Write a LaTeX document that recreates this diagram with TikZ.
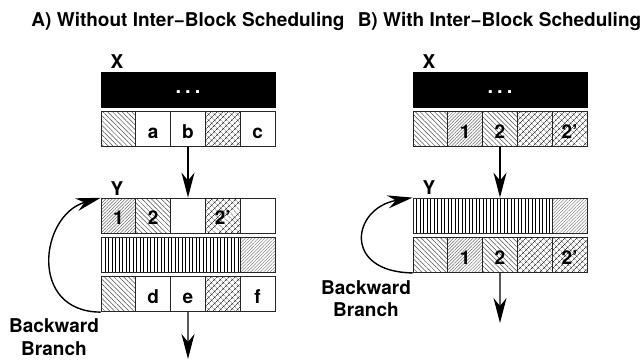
\documentclass[tikz,border=0pt]{standalone}
\usepackage{fontspec}
\setmainfont{TeX Gyre Heros}
\usetikzlibrary{arrows.meta,patterns.meta}
\tikzstyle{cell} = [rectangle, draw=black!85, line width=0.8bp, minimum width=34.8bp, minimum height=35bp, inner sep=0pt, text height=18bp, text depth=0bp, font=\fontsize{19bp}{21bp}\selectfont\bfseries]
\tikzstyle{nwcell} = [cell, pattern={Lines[angle=-45,distance=3.4bp,line width=0.5bp]}, pattern color=black!70]
\tikzstyle{necell} = [cell, pattern={Lines[angle=45,distance=2.3bp,line width=0.45bp]}, pattern color=black!60]
\tikzstyle{xcell} = [cell, pattern={Hatch[angle=45,distance=3.9bp,line width=0.6bp]}, pattern color=black!75]
\tikzstyle{vbar} = [cell, minimum width=139.2bp, pattern={Lines[angle=90,distance=3.5bp,line width=0.6bp]}, pattern color=black]
\tikzstyle{blackbar} = [rectangle, draw, fill=black, minimum width=174bp, minimum height=35bp, inner sep=0pt]
\tikzstyle{dots} = [text=white, inner sep=0pt, font=\fontsize{20bp}{22bp}\selectfont\bfseries]
\tikzstyle{lab} = [anchor=base, font=\fontsize{19bp}{21bp}\selectfont\bfseries]
\tikzstyle{title} = [anchor=base, font=\fontsize{19bp}{22bp}\selectfont\bfseries]
\tikzstyle{branch} = [anchor=base, align=center, font=\fontsize{19bp}{22.7bp}\selectfont\bfseries]
\tikzstyle{arrow} = [line width=1.4bp, arrows={-Stealth[length=25bp,width=13bp,inset=8bp]}]
\begin{document}
\begin{tikzpicture}[x=1bp, y=-1bp, node distance=34.8bp]
\useasboundingbox (0,0) rectangle (644,360);

\node (ttla) [title] at (188,26) {A) Without Inter−Block Scheduling};
\node (ttlb) [title] at (499.5,26) {B) With Inter−Block Scheduling};

% A) block X
\node (xlaba) [lab] at (117,68) {X};
\node (xbara) [blackbar] at (188,89.5) {};
\node (dotsa) [dots] at (188,92) {.\hspace{4bp}.\hspace{4bp}.};
\node (xa1) [nwcell] at (118.4,129) {};
\node (xa2) [cell, right of=xa1] {a};
\node (xa3) [cell, right of=xa2] {b};
\node (xa4) [xcell, right of=xa3] {};
\node (xa5) [cell, right of=xa4] {c};

% A) block Y
\node (ylaba) [lab] at (117,195) {Y};
\node (ya1) [necell] at (118.4,215.5) {1};
\node (ya2) [nwcell, right of=ya1] {2};
\node (ya3) [cell, right of=ya2] {};
\node (ya4) [xcell, right of=ya3] {2'};
\node (ya5) [cell, right of=ya4] {};
\node (ma) [vbar] at (170.6,255) {};
\node (ma5) [necell] at (257.6,255) {};
\node (za1) [nwcell] at (118.4,294.2) {};
\node (za2) [cell, right of=za1] {d};
\node (za3) [cell, right of=za2] {e};
\node (za4) [xcell, right of=za3] {};
\node (za5) [cell, right of=za4] {f};
\coordinate (outa) at (188,359);
\node (bba) [branch] at (54,355) {Backward\\Branch};

\draw [arrow] (xa3.south) -- (ya3.north);
\draw [arrow] (za3.south) -- (outa);
\draw [arrow] (za1.south west) .. controls (28,311.7) and (40,215) .. (ya1.north west);

% B) block X
\node (xlabb) [lab] at (429,68) {X};
\node (xbarb) [blackbar] at (500,89.5) {};
\node (dotsb) [dots] at (500,92) {.\hspace{4bp}.\hspace{4bp}.};
\node (xb1) [nwcell] at (430.4,129) {};
\node (xb2) [necell, right of=xb1] {1};
\node (xb3) [nwcell, right of=xb2] {2};
\node (xb4) [xcell, right of=xb3] {};
\node (xb5) [xcell, right of=xb4] {2'};

% B) block Y
\node (ylabb) [lab] at (429,194.5) {Y};
\node (yb) [vbar] at (482.6,215.5) {};
\node (yb5) [necell] at (569.6,215.5) {};
\node (zb1) [nwcell] at (430.4,255) {};
\node (zb2) [necell, right of=zb1] {1};
\node (zb3) [nwcell, right of=zb2] {2};
\node (zb4) [xcell, right of=zb3] {};
\node (zb5) [xcell, right of=zb4] {2'};
\coordinate (outb) at (500,323);
\node (bbb) [branch] at (366,316.7) {Backward\\Branch};

\draw [arrow] (xb3.south) -- (xb3.south |- yb.north);
\draw [arrow] (zb3.south) -- (outb);
\draw [arrow] (zb1.south west) .. controls (342,272) and (352,208) .. (yb.north west);
\end{tikzpicture}
\end{document}
